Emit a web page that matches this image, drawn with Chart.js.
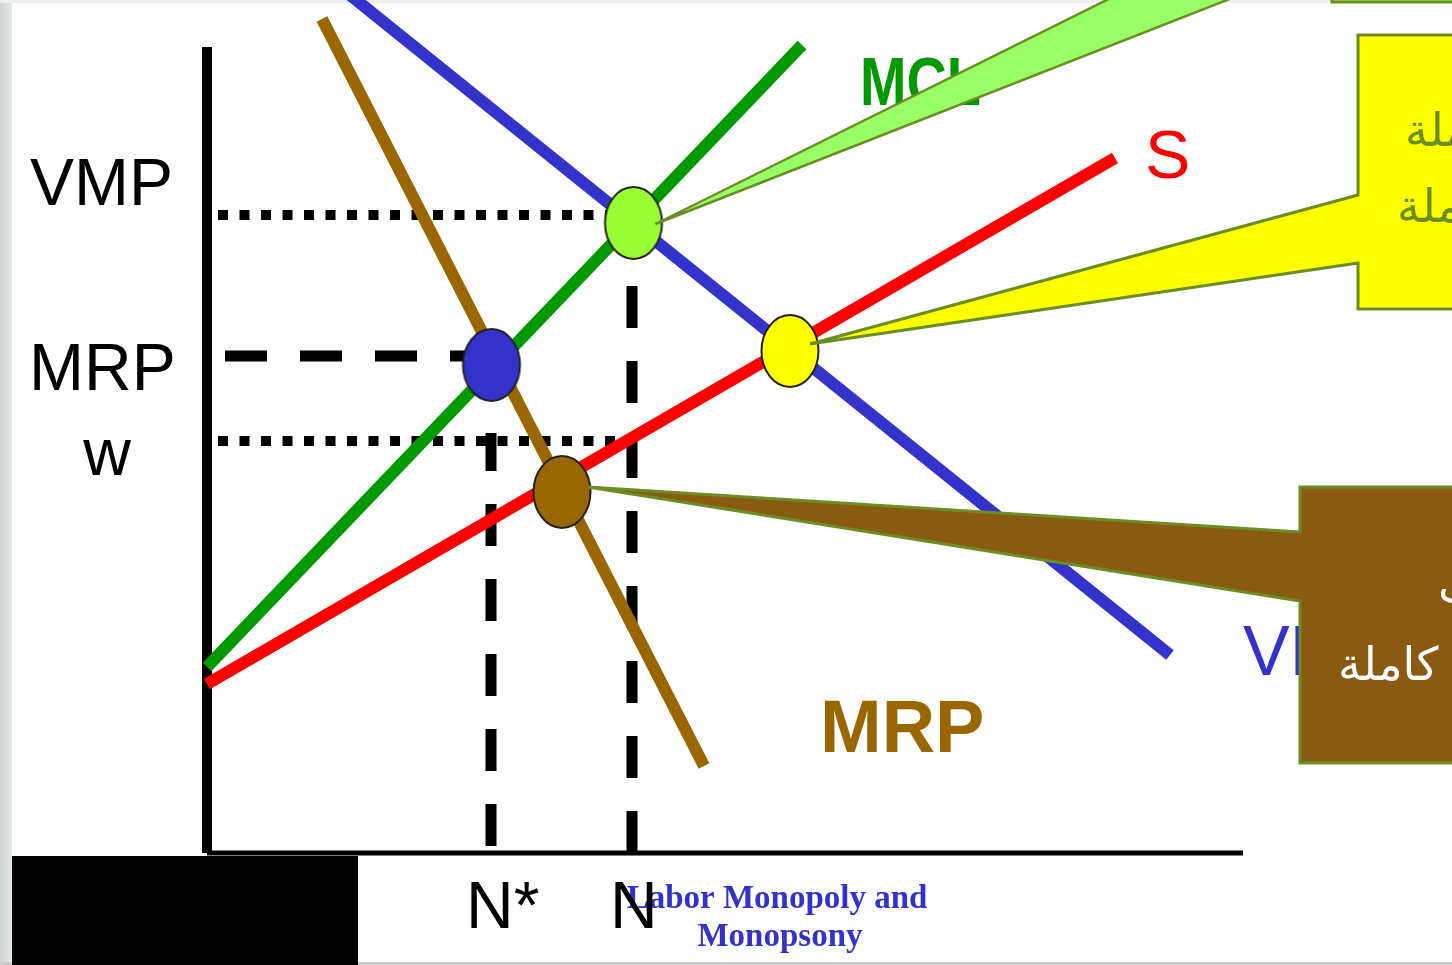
<!DOCTYPE html>
<html>
<head>
<meta charset="utf-8">
<script src="https://cdn.jsdelivr.net/npm/chart.js@4.4.1/dist/chart.umd.min.js"></script>
<style>
html, body { margin: 0; padding: 0; background: #fff; overflow: hidden; }
#wrap { position: relative; width: 1452px; height: 965px; }
</style>
</head>
<body>
<div id="wrap"><canvas id="chart"></canvas></div>
<script>
// labour market diagram: N on x, wage / value on y (1 unit = 100px)
const vmpX = [1.43, 9.63];
const vmpY = [8.58, 1.98];
const mclX = [0, 5.95];
const mclY = [1.86, 8.08];
const supplyX = [0, 9.08];
const supplyY = [1.69, 6.95];
const mrpX = [1.15, 4.97];
const mrpY = [8.34, 0.87];

// intersections marked with ellipses (green, blue, yellow, brown)
const pointX = [4.265, 2.845, 5.83, 3.55];
const pointY = [6.30, 4.88, 5.02, 3.61];
const pointFills = ["#99ff33", "#3333cc", "#ffff00", "#996600"];

// levels on the y axis and quantities on the x axis
const levelNames = ["VMP", "MRP", "w"];
const levelY = [6.38, 4.97, 4.12];
const quantNames = ["N*", "N"];
const quantX = [2.84, 4.25];

const axisTopY = 8.06;
const axisEndX = 10.36;

function seg(xs, ys) {
    return xs.map((x, i) => ({ x: x, y: ys[i] }));
}

function ellipseImg(fill) {
    const c = document.createElement("canvas");
    c.width = 62; c.height = 78;
    const g = c.getContext("2d");
    g.beginPath();
    g.ellipse(31, 39, 28.5, 36, 0, 0, Math.PI * 2);
    g.fillStyle = fill;
    g.fill();
    g.lineWidth = 2;
    g.strokeStyle = "#222";
    g.stroke();
    return c;
}

function lineSet(data, color, width, dash, order) {
    return {
        data: data,
        showLine: true,
        borderColor: color,
        borderWidth: width,
        borderDash: dash || [],
        borderCapStyle: "butt",
        pointRadius: 0,
        fill: false,
        order: order
    };
}

const datasets = [
    lineSet(seg([0, 0], [0, axisTopY]), "#000", 10, null, 5),
    lineSet(seg([0, axisEndX], [0, 0]), "#000", 5, null, 5),
    // guide lines
    lineSet(seg([0.11, quantX[1]], [levelY[0], levelY[0]]), "#000", 10, [10, 11.5], 4),
    lineSet(seg([0.11, quantX[1] + 0.05], [levelY[2], levelY[2]]), "#000", 10, [10, 11.5], 4),
    lineSet(seg([0.18, quantX[0]], [levelY[1], levelY[1]]), "#000", 11, [42, 33], 4),
    lineSet(seg([quantX[0], quantX[0]], [0.07, 4.20]), "#000", 11, [42, 33], 4),
    lineSet(seg([quantX[1], quantX[1]], [0, 5.67]), "#000", 11, [42, 33], 4),
    // curves
    lineSet(seg(vmpX, vmpY), "#3333cc", 12, null, 3),
    lineSet(seg(supplyX, supplyY), "#ff0000", 12, null, 2),
    lineSet(seg(mclX, mclY), "#009900", 12, null, 2),
    lineSet(seg(mrpX, mrpY), "#996600", 12, null, 1),
    {
        data: seg(pointX, pointY),
        showLine: false,
        pointStyle: pointFills.map(ellipseImg),
        pointRadius: 30,
        order: 0
    }
];

function poly(ctx, pts, fill, stroke, lw) {
    ctx.beginPath();
    pts.forEach((p, i) => i ? ctx.lineTo(p[0], p[1]) : ctx.moveTo(p[0], p[1]));
    ctx.closePath();
    ctx.fillStyle = fill;
    ctx.fill();
    ctx.lineWidth = lw;
    ctx.lineJoin = "miter";
    ctx.strokeStyle = stroke;
    ctx.stroke();
}

function clippedText(ctx, box, lines, color, font) {
    ctx.save();
    ctx.beginPath();
    ctx.rect(box[0], box[1], box[2], box[3]);
    ctx.clip();
    ctx.fillStyle = color;
    ctx.font = font;
    ctx.direction = "rtl";
    ctx.textAlign = "left";
    lines.forEach(l => ctx.fillText(l[0], l[1], l[2]));
    ctx.restore();
}

const overlay = {
    id: "overlay",
    beforeDraw(chart) {
        const c = chart.ctx;
        c.save();
        c.fillStyle = "#fff";
        c.fillRect(0, 0, chart.width, chart.height);
        const gr = c.createLinearGradient(0, 0, 12, 0);
        gr.addColorStop(0, "#cfd3d3");
        gr.addColorStop(1, "#e6e8e8");
        c.fillStyle = gr;
        c.fillRect(0, 0, 12, chart.height);
        c.fillStyle = "#eeeeee";
        c.fillRect(0, 0, chart.width, 3);
        c.fillStyle = "#cccccc";
        c.fillRect(0, 962, chart.width, 3);
        c.restore();
    },
    afterDatasetsDraw(chart) {
        const c = chart.ctx;
        const px = v => chart.scales.x.getPixelForValue(v);
        const py = v => chart.scales.y.getPixelForValue(v);
        c.save();

        // caption
        c.fillStyle = "#3333cc";
        c.font = 'bold 33px "Liberation Serif"';
        c.textAlign = "center";
        c.fillText("Labor Monopoly and", 777, 908);
        c.fillText("Monopsony", 780, 946);

        // axis labels
        c.fillStyle = "#000";
        c.font = '66px "Liberation Sans"';
        c.textAlign = "left";
        c.fillText(levelNames[0], 30, 205);
        c.fillText(levelNames[1], 29, 390);
        c.textAlign = "center";
        c.fillText(levelNames[2], 107, 475);
        c.textAlign = "left";
        c.fillText(quantNames[0], px(quantX[0]) - 25, 928);
        c.fillText(quantNames[1], px(quantX[1]) - 22, 928);

        // curve labels
        c.save();
        c.translate(860, 105);
        c.scale(0.82, 1);
        c.fillStyle = "#009900";
        c.font = 'bold 68px "Liberation Sans"';
        c.fillText("MCL", 0, 0);
        c.restore();
        c.fillStyle = "#ff0000";
        c.font = '68px "Liberation Sans"';
        c.fillText("S", 1145, 178);
        c.fillStyle = "#3333cc";
        c.font = '70px "Liberation Sans"';
        c.fillText("VMP", 1243, 675);
        c.fillStyle = "#996600";
        c.font = 'bold 74px "Liberation Sans"';
        c.fillText("MRP", 820, 752);

        // callouts
        const gTip = [px(pointX[0]) + 22, py(pointY[0]) + 1];
        poly(c, [gTip, [1147, -20], [1278, -20]], "#99ff66", "#6b8e23", 2.5);
        poly(c, [[1332, -60], [1470, -60], [1470, 2], [1332, 2]], "#99ff66", "#6b8e23", 3);

        const yTip = [px(pointX[2]) + 20, py(pointY[2]) - 7];
        poly(c, [[1358, 35], [1470, 35], [1470, 309], [1358, 309], [1358, 263], yTip, [1358, 195]],
            "#ffff00", "#6b8e23", 3);
        clippedText(c, [1360, 37, 100, 270], [
            ["منافسة كاملة", 1405, 146],
            ["في سوق منافسة كاملة", 1397, 222]
        ], "#6b8e23", '46px "DejaVu Sans"');

        const bTip = [px(pointX[3]) + 26, py(pointY[3]) - 5];
        poly(c, [[1300, 487], [1470, 487], [1470, 763], [1300, 763], [1300, 601], bTip, [1300, 532]],
            "#8b5a12", "#6b8e23", 3);
        clippedText(c, [1302, 489, 160, 272], [
            ["احتكار من جانب", 1438, 603],
            ["سوق منافسة كاملة", 1338, 680]
        ], "#ffffff", '46px "DejaVu Sans"');

        // black block bottom-left
        c.fillStyle = "#000";
        c.fillRect(12, 856, 346, 110);
        c.restore();
    }
};

new Chart(document.getElementById("chart"), {
    type: "scatter",
    data: { datasets: datasets },
    options: {
        responsive: true,
        maintainAspectRatio: false,
        animation: false,
        devicePixelRatio: 1,
        layout: { padding: 0, autoPadding: false },
        scales: {
            x: { type: "linear", display: false, min: -2.07, max: 12.45 },
            y: { type: "linear", display: false, min: -1.12, max: 8.53 }
        },
        plugins: {
            legend: { display: false },
            tooltip: { enabled: false }
        }
    },
    plugins: [overlay]
});
</script>
</body>
</html>
